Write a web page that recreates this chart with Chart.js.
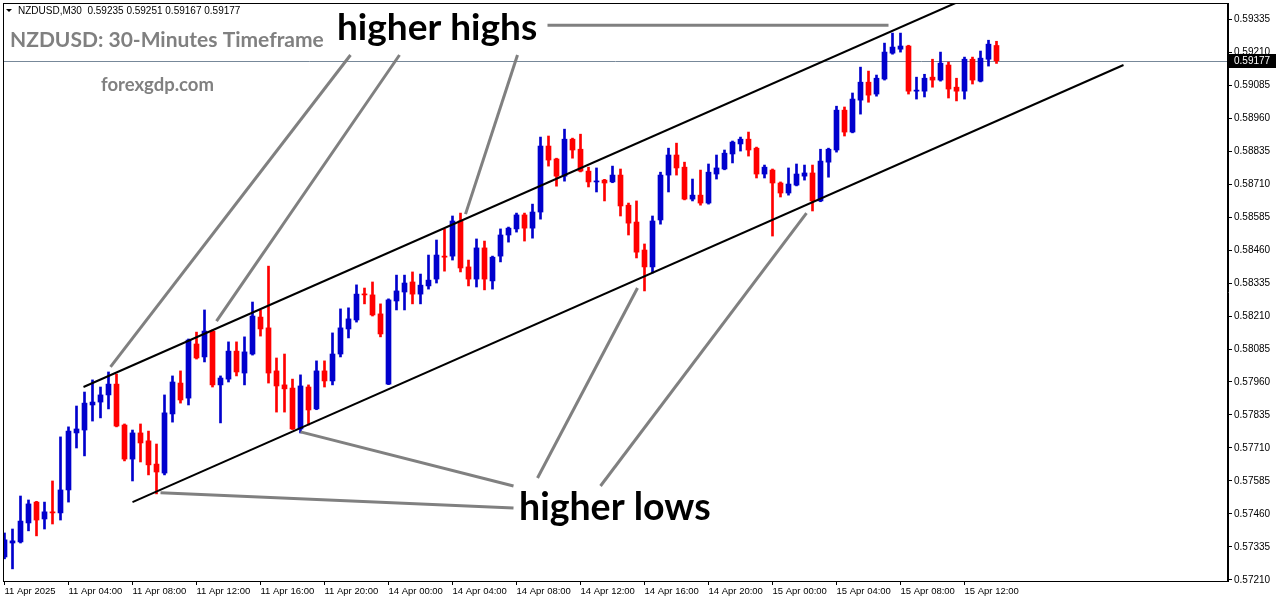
<!DOCTYPE html>
<html>
<head>
<meta charset="utf-8">
<script src="https://cdn.jsdelivr.net/npm/chart.js@4.4.1/dist/chart.umd.min.js"></script>
<style>
  html, body { margin: 0; padding: 0; background: #fff; overflow: hidden; }
</style>
</head>
<body>
<canvas id="grafico" width="1276" height="604"></canvas>
<script>
// NZDUSD M30, 11 Apr 00:00 -> 15 Apr 14:00 (una vela por indice)
const aperturas = [
  0.57297, 0.57350, 0.57354, 0.57426, 0.57505, 0.57441, 0.57468, 0.57464, 0.57551, 0.57767,
  0.57778, 0.57873, 0.57884, 0.57911, 0.57952, 0.57797, 0.57668, 0.57767, 0.57737, 0.57649,
  0.57615, 0.57839, 0.57956, 0.57899, 0.58104, 0.58055, 0.58153, 0.57949, 0.57971, 0.58077,
  0.57994, 0.58066, 0.58206, 0.58165, 0.58002, 0.57949, 0.57937, 0.57782, 0.57941, 0.57858,
  0.58002, 0.57964, 0.58066, 0.58161, 0.58195, 0.58293, 0.58290, 0.58218, 0.57952, 0.58267,
  0.58301, 0.58339, 0.58293, 0.58324, 0.58350, 0.58437, 0.58437, 0.58570, 0.58396, 0.58350,
  0.58468, 0.58343, 0.58437, 0.58517, 0.58540, 0.58593, 0.58543, 0.58604, 0.58854, 0.58805,
  0.58740, 0.58880, 0.58842, 0.58759, 0.58718, 0.58725, 0.58718, 0.58744, 0.58630, 0.58566,
  0.58460, 0.58396, 0.58574, 0.58744, 0.58820, 0.58774, 0.58653, 0.58668, 0.58638, 0.58748,
  0.58767, 0.58824, 0.58862, 0.58880, 0.58846, 0.58748, 0.58763, 0.58714, 0.58676, 0.58706,
  0.58740, 0.58752, 0.58646, 0.58793, 0.58839, 0.58990, 0.58907, 0.59028, 0.59096, 0.59051,
  0.59108, 0.59206, 0.59221, 0.59233, 0.59062, 0.59062, 0.59115, 0.59104, 0.59161, 0.59077,
  0.59062, 0.59183, 0.59100, 0.59183, 0.59235,
];
const maximos = [
  0.57388, 0.57403, 0.57528, 0.57513, 0.57508, 0.57505, 0.57585, 0.57752, 0.57790, 0.57869,
  0.57922, 0.57968, 0.57941, 0.57998, 0.57990, 0.57801, 0.57778, 0.57801, 0.57774, 0.57725,
  0.57911, 0.57983, 0.58002, 0.58123, 0.58149, 0.58233, 0.58157, 0.57983, 0.58112, 0.58112,
  0.58131, 0.58263, 0.58233, 0.58399, 0.58051, 0.58066, 0.57971, 0.57987, 0.57949, 0.58040,
  0.58040, 0.58146, 0.58237, 0.58241, 0.58328, 0.58316, 0.58339, 0.58256, 0.58275, 0.58365,
  0.58365, 0.58377, 0.58369, 0.58441, 0.58498, 0.58540, 0.58589, 0.58600, 0.58422, 0.58502,
  0.58494, 0.58437, 0.58540, 0.58547, 0.58600, 0.58600, 0.58634, 0.58888, 0.58892, 0.58808,
  0.58918, 0.58884, 0.58899, 0.58774, 0.58771, 0.58728, 0.58778, 0.58767, 0.58638, 0.58646,
  0.58483, 0.58589, 0.58755, 0.58846, 0.58865, 0.58793, 0.58729, 0.58763, 0.58786, 0.58820,
  0.58839, 0.58873, 0.58888, 0.58907, 0.58850, 0.58782, 0.58767, 0.58718, 0.58771, 0.58786,
  0.58782, 0.58782, 0.58842, 0.58846, 0.59005, 0.59002, 0.59055, 0.59153, 0.59138, 0.59123,
  0.59244, 0.59282, 0.59282, 0.59236, 0.59115, 0.59126, 0.59183, 0.59210, 0.59172, 0.59111,
  0.59191, 0.59191, 0.59214, 0.59255, 0.59251,
];
const minimos = [
  0.57290, 0.57252, 0.57350, 0.57396, 0.57377, 0.57403, 0.57422, 0.57437, 0.57505, 0.57710,
  0.57680, 0.57812, 0.57824, 0.57858, 0.57790, 0.57661, 0.57585, 0.57657, 0.57608, 0.57536,
  0.57608, 0.57808, 0.57880, 0.57873, 0.58047, 0.58036, 0.57941, 0.57805, 0.57960, 0.57983,
  0.57949, 0.58062, 0.58134, 0.57956, 0.57846, 0.57846, 0.57780, 0.57767, 0.57797, 0.57855,
  0.57941, 0.57949, 0.58055, 0.58127, 0.58187, 0.58256, 0.58210, 0.58131, 0.57950, 0.58233,
  0.58233, 0.58256, 0.58256, 0.58312, 0.58335, 0.58380, 0.58422, 0.58377, 0.58324, 0.58320,
  0.58309, 0.58312, 0.58415, 0.58490, 0.58528, 0.58494, 0.58505, 0.58577, 0.58778, 0.58702,
  0.58721, 0.58808, 0.58756, 0.58699, 0.58680, 0.58646, 0.58715, 0.58589, 0.58517, 0.58430,
  0.58305, 0.58373, 0.58558, 0.58680, 0.58744, 0.58650, 0.58646, 0.58630, 0.58634, 0.58729,
  0.58764, 0.58790, 0.58835, 0.58816, 0.58733, 0.58733, 0.58513, 0.58661, 0.58668, 0.58703,
  0.58725, 0.58608, 0.58643, 0.58736, 0.58831, 0.58892, 0.58904, 0.58975, 0.59020, 0.59043,
  0.59104, 0.59202, 0.59210, 0.59051, 0.59032, 0.59040, 0.59077, 0.59100, 0.59036, 0.59025,
  0.59032, 0.59089, 0.59097, 0.59157, 0.59167,
];
const cierres = [
  0.57362, 0.57358, 0.57433, 0.57498, 0.57437, 0.57468, 0.57464, 0.57551, 0.57774, 0.57782,
  0.57880, 0.57884, 0.57911, 0.57952, 0.57793, 0.57668, 0.57767, 0.57729, 0.57646, 0.57619,
  0.57843, 0.57960, 0.57892, 0.58119, 0.58051, 0.58153, 0.57949, 0.57975, 0.58077, 0.57998,
  0.58074, 0.58210, 0.58161, 0.57994, 0.57945, 0.57934, 0.57782, 0.57945, 0.57854, 0.58002,
  0.57964, 0.58066, 0.58165, 0.58199, 0.58293, 0.58290, 0.58214, 0.58142, 0.58271, 0.58305,
  0.58335, 0.58293, 0.58327, 0.58346, 0.58441, 0.58433, 0.58570, 0.58392, 0.58350, 0.58468,
  0.58350, 0.58433, 0.58517, 0.58543, 0.58593, 0.58543, 0.58604, 0.58854, 0.58801, 0.58740,
  0.58880, 0.58839, 0.58759, 0.58718, 0.58721, 0.58714, 0.58744, 0.58627, 0.58562, 0.58452,
  0.58396, 0.58570, 0.58744, 0.58820, 0.58771, 0.58653, 0.58668, 0.58638, 0.58755, 0.58771,
  0.58827, 0.58869, 0.58880, 0.58839, 0.58748, 0.58774, 0.58714, 0.58676, 0.58710, 0.58748,
  0.58752, 0.58646, 0.58797, 0.58842, 0.58990, 0.58907, 0.59032, 0.59096, 0.59047, 0.59111,
  0.59210, 0.59229, 0.59233, 0.59062, 0.59066, 0.59111, 0.59104, 0.59168, 0.59070, 0.59062,
  0.59183, 0.59104, 0.59187, 0.59240, 0.59177,
];

// etiquetas del eje x, una cada 8 velas (4 horas)
const etiquetasTiempo = [
  "11 Apr 2025", "11 Apr 04:00", "11 Apr 08:00", "11 Apr 12:00", "11 Apr 16:00",
  "11 Apr 20:00", "14 Apr 00:00", "14 Apr 04:00", "14 Apr 08:00", "14 Apr 12:00",
  "14 Apr 16:00", "14 Apr 20:00", "15 Apr 00:00", "15 Apr 04:00", "15 Apr 08:00",
  "15 Apr 12:00",
];
const ticksPrecio = [
  0.57210, 0.57335, 0.57460, 0.57585, 0.57710, 0.57835, 0.57960, 0.58085, 0.58210,
  0.58335, 0.58460, 0.58585, 0.58710, 0.58835, 0.58960, 0.59085, 0.59210, 0.59335,
];

// lineas del canal [vela1, precio1, vela2, precio2]
const lineasCanal = [
  [9.875, 0.57941, 118.875, 0.59396],
  [16, 0.57505, 139.875, 0.59161],
];
// flechas grises hacia maximos y minimos
const lineasMaximos = [
  [67.875, 0.59312, 110.5, 0.59312],
  [43.25, 0.59199, 13.25, 0.58017],
  [49.375, 0.59199, 26.5, 0.58191],
  [64.125, 0.59199, 57.625, 0.58596],
];
const lineasMinimos = [
  [63.625, 0.57566, 37, 0.57771],
  [63.625, 0.57483, 19.5, 0.57540],
  [66.625, 0.57596, 79.125, 0.58316],
  [74.5, 0.57566, 100.25, 0.58600],
];

const AZUL = "#0000CD";
const ROJO = "#FF0000";
const fuenteEje = { family: "Liberation Sans", size: 10 };

const colores = cierres.map((c, i) => (c >= aperturas[i] ? AZUL : ROJO));

function trazar(ctx, sx, sy, l) {
  ctx.beginPath();
  ctx.moveTo(sx.getPixelForValue(l[0]), sy.getPixelForValue(l[1]));
  ctx.lineTo(sx.getPixelForValue(l[2]), sy.getPixelForValue(l[3]));
  ctx.stroke();
}

const extras = {
  id: "extras",
  beforeDatasetsDraw(chart) {
    const { ctx, chartArea: a, scales } = chart;
    const py = Math.round(scales.y.getPixelForValue(cierres[cierres.length - 1])) + 0.5;
    ctx.save();
    ctx.strokeStyle = "#778899";
    ctx.lineWidth = 1;
    ctx.beginPath();
    ctx.moveTo(a.left, py);
    ctx.lineTo(a.right, py);
    ctx.stroke();
    ctx.restore();
  },
  afterDatasetsDraw(chart) {
    const { ctx, chartArea: a, scales } = chart;
    const sx = scales.x, sy = scales.y;

    ctx.save();
    ctx.beginPath();
    ctx.rect(a.left, a.top, a.right - a.left, a.bottom - a.top);
    ctx.clip();

    ctx.strokeStyle = "#000";
    ctx.lineWidth = 2;
    lineasCanal.forEach((l) => trazar(ctx, sx, sy, l));

    ctx.strokeStyle = "#808080";
    ctx.lineWidth = 3;
    lineasMaximos.forEach((l) => trazar(ctx, sx, sy, l));
    lineasMinimos.forEach((l) => trazar(ctx, sx, sy, l));

    ctx.fillStyle = "#000";
    ctx.textBaseline = "alphabetic";
    ctx.font = "bold 37px Lato";
    ctx.fillText("higher highs", 337, 40);
    ctx.font = "bold 37.5px Lato";
    ctx.fillText("higher lows", 519, 520);

    ctx.fillStyle = "#808080";
    ctx.font = "bold 21px Lato";
    ctx.fillText("NZDUSD: 30-Minutes Timeframe", 10, 47);
    ctx.font = "bold 18.5px Lato";
    ctx.fillText("forexgdp.com", 101, 91);

    // encabezado tipo MT4
    ctx.fillStyle = "#000";
    ctx.beginPath();
    ctx.moveTo(6, 9);
    ctx.lineTo(12, 9);
    ctx.lineTo(9, 12);
    ctx.closePath();
    ctx.fill();
    ctx.font = "10px 'Liberation Sans'";
    ctx.fillText("NZDUSD,M30  0.59235 0.59251 0.59167 0.59177", 18, 14);
    ctx.restore();

    // marco
    ctx.save();
    ctx.strokeStyle = "#000";
    ctx.lineWidth = 1;
    ctx.strokeRect(a.left + 0.5, a.top + 0.5, a.right - a.left - 1, a.bottom - a.top);
    ctx.restore();

    // etiqueta del precio actual
    const ultimo = cierres[cierres.length - 1];
    const py = Math.round(sy.getPixelForValue(ultimo));
    ctx.save();
    ctx.fillStyle = "#000";
    ctx.fillRect(a.right + 1, py - 7, chart.width - a.right - 1, 14);
    ctx.fillStyle = "#fff";
    ctx.font = "10px 'Liberation Sans'";
    ctx.textBaseline = "middle";
    ctx.fillText(ultimo.toFixed(5), a.right + 6, py);
    ctx.restore();
  },
};

new Chart(document.getElementById("grafico"), {
  type: "bar",
  data: {
    datasets: [
      {
        label: "mechas",
        data: minimos.map((l, i) => ({ x: i, y: [l, maximos[i]] })),
        backgroundColor: colores,
        barThickness: 2,
        grouped: false,
        order: 2,
      },
      {
        label: "cuerpos",
        data: aperturas.map((o, i) => ({ x: i, y: [o, cierres[i]] })),
        backgroundColor: colores,
        barThickness: 5,
        minBarLength: 1,
        grouped: false,
        order: 1,
      },
    ],
  },
  plugins: [extras],
  options: {
    responsive: false,
    animation: false,
    layout: { padding: { left: 3, top: 3, right: 0, bottom: 0 } },
    plugins: { legend: { display: false }, tooltip: { enabled: false } },
    scales: {
      x: {
        type: "linear",
        offset: false,
        min: -0.1875,
        max: 152.9375,
        afterBuildTicks: (s) => {
          s.ticks = etiquetasTiempo.map((t, k) => ({ value: k * 8 }));
        },
        afterFit: (s) => {
          s.height = 23;
          s.paddingLeft = 0;
          s.paddingRight = 0;
        },
        ticks: {
          autoSkip: false,
          maxRotation: 0,
          align: "start",
          padding: 1,
          color: "#000",
          font: { family: "Liberation Sans", size: 9.5 },
          callback: (v) => etiquetasTiempo[Math.round(v / 8)],
        },
        grid: { drawOnChartArea: false, offset: false, tickLength: 4, color: "#000" },
        border: { color: "#000" },
      },
      y: {
        type: "linear",
        position: "right",
        min: 0.57206,
        max: 0.59396,
        afterBuildTicks: (s) => {
          s.ticks = ticksPrecio.map((v) => ({ value: v }));
        },
        afterFit: (s) => {
          s.width = 48;
          s.paddingTop = 0;
          s.paddingBottom = 0;
        },
        ticks: {
          padding: 2,
          color: "#000",
          font: fuenteEje,
          callback: (v) => v.toFixed(5),
        },
        grid: { drawOnChartArea: false, tickLength: 4, color: "#000" },
        border: { color: "#000" },
      },
    },
  },
});
</script>
</body>
</html>
